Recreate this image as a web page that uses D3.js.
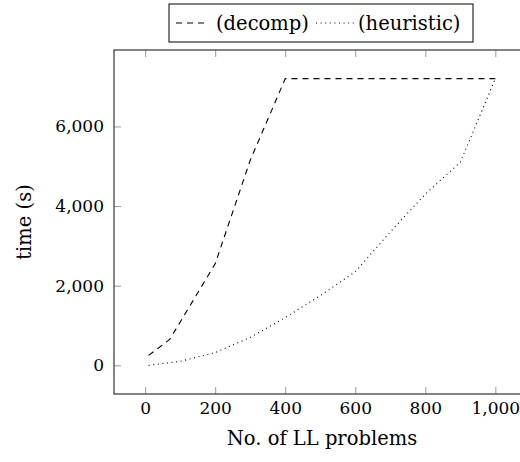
<!DOCTYPE html>
<html>
<head>
<meta charset="UTF-8">
<title>time vs LL problems</title>
<script src="https://d3js.org/d3.v7.min.js"></script>
<style>
  body { margin: 0; background: #fff; }
  svg { display: block; }
  text { font-family: "DejaVu Serif", "Liberation Serif", serif; fill: #000; }
</style>
</head>
<body>
<svg id="chart" width="520" height="462"></svg>
<script>
// data
var decompX = [10, 70, 200, 300, 400, 1000];
var decompY = [250, 650, 2550, 5150, 7200, 7200];
var heurX = [10, 100, 200, 300, 400, 500, 600, 700, 800, 900, 1000];
var heurY = [0, 100, 320, 700, 1200, 1750, 2350, 3350, 4300, 5100, 7200];
var xTicks = [0, 200, 400, 600, 800, 1000];
var yTicks = [0, 2000, 4000, 6000];
var seriesNames = ["(decomp)", "(heuristic)"];

var svg = d3.select("#chart");
var pLeft = 114, pRight = 530, pTop = 50, pBottom = 394;
var fs = 17, lfs = 19.5;

var x = d3.scaleLinear().domain([-89, 1099]).range([pLeft, pRight]);
var y = d3.scaleLinear().domain([-720, 7920]).range([pBottom, pTop]);
var fmt = d3.format(",");

// axes (ticks point inwards, like pgfplots)
function styleAxis(g) {
  g.select(".domain").remove();
  g.selectAll(".tick line").attr("stroke", "#999").attr("stroke-width", 1);
  g.selectAll(".tick text").attr("font-size", fs).attr("fill", "#000")
    .attr("font-family", "DejaVu Serif, serif");
}
svg.append("g").attr("transform", "translate(0," + pBottom + ")")
  .call(d3.axisBottom(x).tickValues(xTicks).tickFormat(fmt).tickSizeInner(-7).tickSizeOuter(0).tickPadding(8))
  .call(styleAxis);
svg.append("g").attr("transform", "translate(0," + pTop + ")")
  .call(d3.axisTop(x).tickValues(xTicks).tickFormat("").tickSizeInner(-7).tickSizeOuter(0))
  .call(styleAxis);
svg.append("g").attr("transform", "translate(" + pLeft + ",0)")
  .call(d3.axisLeft(y).tickValues(yTicks).tickFormat(fmt).tickSizeInner(-7).tickSizeOuter(0).tickPadding(10))
  .call(styleAxis);
svg.append("g").attr("transform", "translate(" + pRight + ",0)")
  .call(d3.axisRight(y).tickValues(yTicks).tickFormat("").tickSizeInner(-7).tickSizeOuter(0))
  .call(styleAxis);

svg.append("rect")
  .attr("x", pLeft).attr("y", pTop)
  .attr("width", pRight - pLeft).attr("height", pBottom - pTop)
  .attr("fill", "none").attr("stroke", "#444").attr("stroke-width", 1.3);

// series
var line = d3.line().x(function(d) { return x(d[0]); }).y(function(d) { return y(d[1]); });
svg.append("path")
  .datum(d3.zip(decompX, decompY))
  .attr("d", line).attr("fill", "none").attr("stroke", "#000")
  .attr("stroke-width", 1.1).attr("stroke-dasharray", "6,5");
svg.append("path")
  .datum(d3.zip(heurX, heurY))
  .attr("d", line).attr("fill", "none").attr("stroke", "#000")
  .attr("stroke-width", 1.1).attr("stroke-dasharray", "1,3.6");

// axis labels
svg.append("text")
  .attr("x", (pLeft + pRight) / 2).attr("y", 445)
  .attr("text-anchor", "middle").attr("font-size", lfs)
  .text("No. of LL problems");
svg.append("text")
  .attr("transform", "translate(31," + (pTop + pBottom) / 2 + ") rotate(-90)")
  .attr("text-anchor", "middle").attr("font-size", lfs)
  .text("time (s)");

// legend
var lg = svg.append("g");
lg.append("rect").attr("x", 169).attr("y", 4).attr("width", 304).attr("height", 38)
  .attr("fill", "#fff").attr("stroke", "#000").attr("stroke-width", 1);
lg.append("line").attr("x1", 176).attr("x2", 209).attr("y1", 23).attr("y2", 23)
  .attr("stroke", "#000").attr("stroke-width", 1.1).attr("stroke-dasharray", "6,5");
lg.append("text").attr("x", 216).attr("y", 29.5).attr("font-size", lfs).text(seriesNames[0]);
lg.append("line").attr("x1", 316).attr("x2", 355).attr("y1", 23).attr("y2", 23)
  .attr("stroke", "#000").attr("stroke-width", 1.1).attr("stroke-dasharray", "1,3.6");
lg.append("text").attr("x", 358).attr("y", 29.5).attr("font-size", lfs).text(seriesNames[1]);
</script>
</body>
</html>
